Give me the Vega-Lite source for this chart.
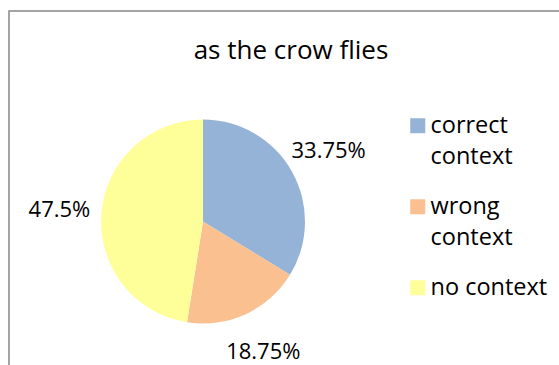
{
  "$schema": "https://vega.github.io/schema/vega-lite/v6.json",
  "autosize": "none",
  "padding": {"left": 9, "top": 11, "right": 0, "bottom": 0},
  "width": 552,
  "height": 356,
  "background": "white",
  "view": {"stroke": "#868686", "strokeWidth": 1.5, "fill": "white"},
  "config": {
    "font": "Open Sans",
    "style": {"guide-label": {"lineHeight": 31, "dy": -12}}
  },
  "title": {
    "text": "as the crow flies",
    "font": "Open Sans",
    "fontSize": 26,
    "fontWeight": "normal",
    "color": "#000000",
    "anchor": "middle",
    "baseline": "alphabetic",
    "offset": 0,
    "dy": 74,
    "dx": 6
  },
  "data": {
    "values": [
      {"category": "correct context", "share": 0.3375, "rank": 1},
      {"category": "wrong context", "share": 0.1875, "rank": 2},
      {"category": "no context", "share": 0.475, "rank": 3}
    ]
  },
  "encoding": {
    "theta": {"field": "share", "type": "quantitative", "stack": true},
    "order": {"field": "rank", "type": "quantitative"}
  },
  "layer": [
    {
      "mark": {"type": "arc", "outerRadius": 102, "xOffset": -82, "yOffset": 32.5, "stroke": null},
      "encoding": {
        "color": {
          "field": "category",
          "type": "nominal",
          "scale": {
            "domain": ["correct context", "wrong context", "no context"],
            "range": ["#95B3D7", "#FAC090", "#FFFF99"]
          },
          "legend": {
            "title": null,
            "orient": "none",
            "legendX": 397,
            "legendY": 103,
            "padding": 0,
            "symbolType": "square",
            "symbolSize": 225,
            "symbolStrokeWidth": 0,
            "labelFont": "Open Sans",
            "labelFontSize": 23.5,
            "labelColor": "#000000",
            "labelOffset": 1,
            "labelLimit": 200,
            "labelBaseline": "top",
            "rowPadding": 25,
            "labelExpr": "datum.label == 'no context' ? datum.label : split(datum.label, ' ')"
          }
        }
      }
    },
    {
      "mark": {"type": "text", "radius": 144, "xOffset": -82, "yOffset": 32.5, "font": "Open Sans", "fontSize": 22, "color": "#000000"},
      "encoding": {
        "text": {"field": "share", "type": "quantitative", "format": ".2~%"}
      }
    }
  ]
}
